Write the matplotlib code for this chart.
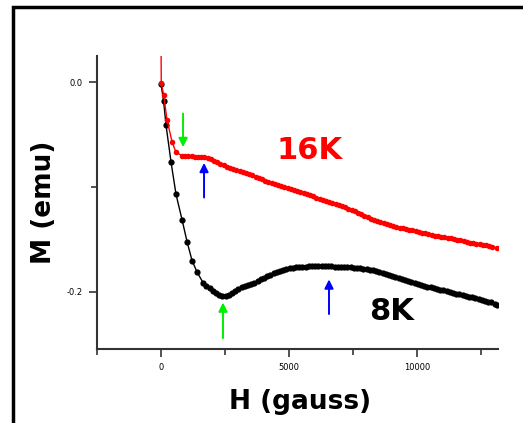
import numpy as np
import matplotlib
matplotlib.use("Agg")
import matplotlib.pyplot as plt
from matplotlib.patches import Rectangle

# magnetization curves M(H), field in gauss, moment in emu
h_8k = [0, 100, 195, 390, 586, 820, 1016, 1211, 1406, 1640, 1775, 1900, 2025,
        2150, 2275, 2400, 2525, 2650, 2775, 2900, 3025, 3150, 3275, 3400, 3525,
        3650, 3775, 3900, 4025, 4150, 4275, 4400, 4525, 4650, 4775, 4900, 5025,
        5150, 5275, 5400, 5525, 5650, 5775, 5900, 6025, 6150, 6275, 6400, 6525,
        6650, 6775, 6900, 7025, 7150, 7275, 7400, 7525, 7650, 7775, 7900, 8025,
        8150, 8275, 8400, 8525, 8650, 8775, 8900, 9025, 9150, 9275, 9400, 9525,
        9650, 9775, 9900, 10025, 10150, 10275, 10400, 10525, 10650, 10775,
        10900, 11025, 11150, 11275, 11400, 11525, 11650, 11775, 11900, 12025,
        12150, 12275, 12400, 12525, 12650, 12775, 12900, 13025, 13125]
m_8k = [-0.002, -0.018, -0.041, -0.076, -0.107, -0.131, -0.152, -0.170, -0.181,
        -0.191, -0.194, -0.196, -0.199, -0.201, -0.203, -0.204, -0.204, -0.203,
        -0.201, -0.199, -0.197, -0.195, -0.194, -0.193, -0.192, -0.191, -0.1895,
        -0.188, -0.1865, -0.185, -0.1835, -0.182, -0.181, -0.180, -0.179, -0.178,
        -0.1775, -0.177, -0.1765, -0.176, -0.176, -0.176, -0.1755, -0.1755,
        -0.1755, -0.1755, -0.1755, -0.1755, -0.1755, -0.1755, -0.1758, -0.176,
        -0.176, -0.176, -0.1763, -0.1765, -0.1768, -0.177, -0.1775, -0.178,
        -0.1785, -0.179, -0.1795, -0.180, -0.181, -0.182, -0.183, -0.184, -0.185,
        -0.186, -0.187, -0.188, -0.189, -0.190, -0.1905, -0.191, -0.192, -0.193,
        -0.194, -0.195, -0.1955, -0.196, -0.197, -0.198, -0.1985, -0.199, -0.200,
        -0.201, -0.2015, -0.202, -0.203, -0.204, -0.2045, -0.205, -0.206, -0.207,
        -0.208, -0.209, -0.2095, -0.210, -0.211, -0.212]

h_16k = [0, 10, 100, 234, 430, 586, 820, 945, 1070, 1195, 1320, 1445, 1570,
         1695, 1820, 1945, 2070, 2195, 2320, 2445, 2570, 2695, 2820, 2945, 3070,
         3195, 3320, 3445, 3570, 3695, 3820, 3945, 4070, 4195, 4320, 4445, 4570,
         4695, 4820, 4945, 5070, 5195, 5320, 5445, 5570, 5695, 5820, 5945, 6070,
         6195, 6320, 6445, 6570, 6695, 6820, 6945, 7070, 7195, 7320, 7445, 7570,
         7695, 7820, 7945, 8070, 8195, 8320, 8445, 8570, 8695, 8820, 8945, 9070,
         9195, 9320, 9445, 9570, 9695, 9820, 9945, 10070, 10195, 10320, 10445,
         10570, 10695, 10820, 10945, 11070, 11195, 11320, 11445, 11570, 11695,
         11820, 11945, 12070, 12195, 12320, 12445, 12570, 12695, 12820, 12945,
         13125]
m_16k = [0.04, -0.001, -0.012, -0.036, -0.057, -0.067, -0.070, -0.0703, -0.0705,
         -0.0708, -0.071, -0.0713, -0.0715, -0.0718, -0.072, -0.0735, -0.075,
         -0.0765, -0.078, -0.0795, -0.081, -0.082, -0.083, -0.084, -0.085, -0.086,
         -0.087, -0.088, -0.089, -0.090, -0.091, -0.0925, -0.094, -0.095, -0.096,
         -0.097, -0.098, -0.099, -0.100, -0.101, -0.102, -0.103, -0.104, -0.105,
         -0.106, -0.107, -0.108, -0.109, -0.110, -0.111, -0.112, -0.113, -0.114,
         -0.115, -0.116, -0.117, -0.118, -0.1195, -0.121, -0.122, -0.123, -0.1245,
         -0.126, -0.1275, -0.129, -0.130, -0.131, -0.132, -0.133, -0.134, -0.135,
         -0.136, -0.137, -0.138, -0.139, -0.1395, -0.140, -0.1405, -0.141, -0.142,
         -0.143, -0.1435, -0.144, -0.145, -0.146, -0.1465, -0.147, -0.1475,
         -0.148, -0.1485, -0.149, -0.1495, -0.150, -0.1505, -0.151, -0.152,
         -0.153, -0.1535, -0.154, -0.1545, -0.155, -0.1555, -0.156, -0.157,
         -0.158]

# arrows marking the features: field, tail, tip, colour
arrow_h = [860, 1680, 2420, 6560]
arrow_tail = [-0.030, -0.110, -0.244, -0.221]
arrow_tip = [-0.062, -0.077, -0.210, -0.188]
arrow_color = ["#00ee00", "#0000ff", "#00ee00", "#0000ff"]

fig = plt.figure(figsize=(5.23, 4.23), dpi=100)
fig.patches.append(Rectangle((13 / 523, -0.1), 1.2, 1 - 7 / 423 + 0.1,
                             transform=fig.transFigure, fill=False,
                             edgecolor="black", lw=2.5))
ax = fig.add_axes([97 / 523, 1 - 349 / 423, 401 / 523, 293 / 423])

ax.plot(h_8k, m_8k, "-", color="black", lw=1, marker="o", ms=4.5,
        markeredgewidth=0)
ax.plot(h_16k, m_16k, "-", color="#ff0000", lw=1, marker="o", ms=4,
        markeredgewidth=0)

for h, t0, t1, c in zip(arrow_h, arrow_tail, arrow_tip, arrow_color):
    ax.annotate("", xy=(h, t1), xytext=(h, t0),
                arrowprops=dict(arrowstyle="-|>", color=c, lw=1.4,
                                mutation_scale=13, shrinkA=0, shrinkB=0))

ax.text(5820, -0.065, "16K", color="#ff0000", fontsize=22, fontweight="bold",
        ha="center", va="center")
ax.text(8984, -0.219, "8K", color="black", fontsize=22, fontweight="bold",
        ha="center", va="center")

ax.set_xlim(-2500, 13160)
ax.set_ylim(-0.2543, 0.0248)
ax.set_xticks([0, 5000, 10000])
ax.set_xticks([-2500, 2500, 7500, 12500], minor=True)
ax.set_yticks([0.0, -0.2])
ax.set_yticks([-0.1], minor=True)
ax.set_xticklabels(["0", "5000", "10000"])
ax.set_yticklabels(["0.0", "-0.2"])

for s in ["top", "right"]:
    ax.spines[s].set_visible(False)
for s in ["left", "bottom"]:
    ax.spines[s].set_color("#333333")
    ax.spines[s].set_linewidth(1.5)
ax.tick_params(which="major", length=6, width=1.2, color="#333333",
               labelsize=6, pad=4)
ax.tick_params(which="minor", length=4, width=1.2, color="#333333")

ax.set_xlabel("H (gauss)", fontsize=19, fontweight="bold")
ax.set_ylabel("M (emu)", fontsize=19, fontweight="bold")
ax.xaxis.set_label_coords(0.506, -0.137)
ax.yaxis.set_label_coords(-0.10, 0.5)

fig.savefig("out.png", dpi=100)
